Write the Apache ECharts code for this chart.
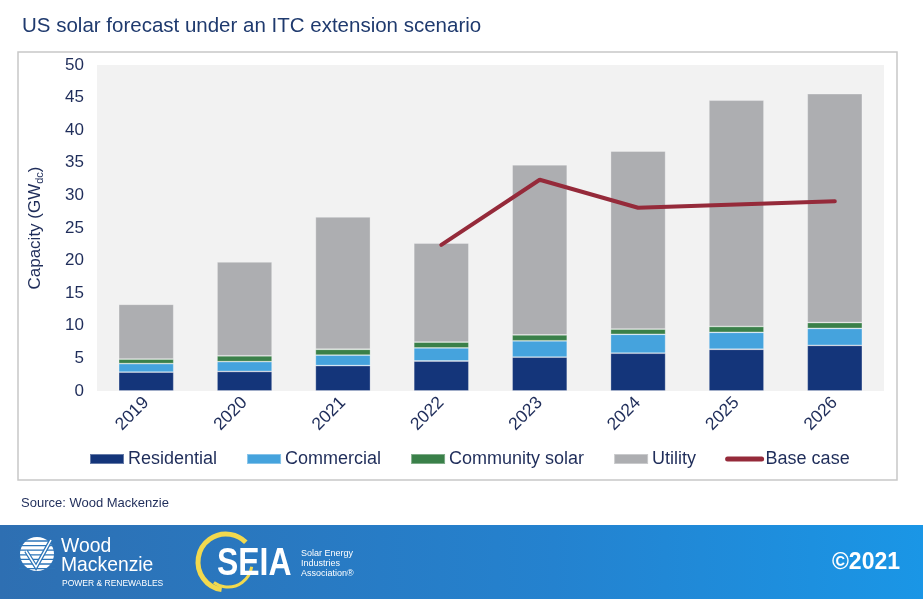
<!DOCTYPE html>
<html>
<head>
<meta charset="utf-8">
<script src="https://cdn.jsdelivr.net/npm/echarts@6/dist/echarts.min.js"></script>
<style>html,body{margin:0;padding:0;background:#fff}#c{width:923px;height:599px}</style>
</head>
<body>
<div id="c"></div>
<script>
var years = ['2019','2020','2021','2022','2023','2024','2025','2026'];
var residential = [2.9, 3.0, 3.9, 4.6, 5.2, 5.8, 6.4, 7.0];
var commercial = [1.3, 1.5, 1.6, 2.0, 2.5, 2.9, 2.6, 2.6];
var community = [0.7, 0.9, 0.9, 0.9, 0.9, 0.8, 0.9, 0.9];
var utility = [8.4, 14.4, 20.3, 15.2, 26.1, 27.3, 34.7, 35.1];
var baseCase = [null, null, null, 22.4, 32.4, 28.1, 28.6, 29.1];
var yTicks = [0, 5, 10, 15, 20, 25, 30, 35, 40, 45, 50];

var FONT = 'Liberation Sans, Arial, sans-serif';
var NAVY = '#1f2d5a';
var chart = echarts.init(document.getElementById('c'), null, {renderer: 'canvas'});

function bar(name, data, color) {
  return {name: name, type: 'bar', stack: 'total', data: data, barWidth: '56%',
    itemStyle: {color: color, borderColor: 'rgba(255,255,255,0.35)', borderWidth: 0.8},
    emphasis: {disabled: true}};
}

var stripes = [];
for (var i = 0; i < 7; i++) {
  stripes.push({type: 'line', shape: {x1: 19, y1: 541 + i * 4.6, x2: 55, y2: 541 + i * 4.6},
    style: {stroke: '#2d75b8', lineWidth: 1.3}, z: 12});
}

var option = {
  animation: false,
  textStyle: {fontFamily: FONT},
  title: {text: 'US solar forecast under an ITC extension scenario', left: 17, top: 11,
    textStyle: {fontFamily: FONT, fontSize: 20.5, fontWeight: 'normal', color: '#1f3a6e'}},
  grid: {left: 97, right: 39, top: 65, bottom: 208, show: true, backgroundColor: '#f2f2f2', borderWidth: 0},
  legend: {left: 84, top: 445, itemWidth: 34, itemHeight: 10, itemGap: 29,
    textStyle: {fontFamily: FONT, fontSize: 18, color: NAVY, padding: [0, 0, 0, -1]},
    data: [{name: 'Residential', icon: 'rect'}, {name: 'Commercial', icon: 'rect'},
      {name: 'Community solar', icon: 'rect'}, {name: 'Utility', icon: 'rect'},
      {name: 'Base case', itemStyle: {color: 'rgba(0,0,0,0)', borderWidth: 0, opacity: 0},
        lineStyle: {width: 5, color: '#952a3a', cap: 'round'}}]},
  xAxis: {type: 'category', data: years,
    axisLine: {show: false}, axisTick: {show: false},
    axisLabel: {rotate: 45, fontSize: 17.5, color: NAVY, margin: 9, fontFamily: FONT}},
  yAxis: {type: 'value', min: yTicks[0], max: yTicks[yTicks.length - 1], interval: 5,
    splitLine: {show: false}, axisLine: {show: false}, axisTick: {show: false},
    axisLabel: {fontSize: 17, color: NAVY, margin: 13, fontFamily: FONT},
    name: '{a|Capacity (GW}{b|dc}{a|)}', nameLocation: 'middle', nameRotate: 90, nameGap: 52,
    nameTextStyle: {rich: {a: {fontSize: 17, color: NAVY, fontFamily: FONT},
      b: {fontSize: 11, color: NAVY, fontFamily: FONT, padding: [8, 0, 0, 0]}}}},
  series: [
    bar('Residential', residential, '#14357a'),
    bar('Commercial', commercial, '#45a3dd'),
    bar('Community solar', community, '#3a8049'),
    bar('Utility', utility, '#adaeb1'),
    {name: 'Base case', type: 'line', data: baseCase, symbol: 'none', connectNulls: false,
      lineStyle: {color: '#952a3a', width: 4, cap: 'round'}, itemStyle: {color: '#952a3a'}, z: 5}
  ],
  graphic: [
    {type: 'rect', shape: {x: 18, y: 52, width: 879, height: 428}, style: {fill: 'none', stroke: '#c8c8c8', lineWidth: 1.5}, z: -1, silent: true},
    {type: 'text', x: 21, y: 503, style: {text: 'Source: Wood Mackenzie', fontFamily: FONT, fontSize: 13, fill: NAVY, textVerticalAlign: 'middle'}},
    {type: 'rect', shape: {x: 0, y: 525, width: 923, height: 74},
      style: {fill: new echarts.graphic.LinearGradient(0, 0, 1, 0, [{offset: 0, color: '#2e6fb2'}, {offset: 0.6, color: '#2482cf'}, {offset: 1, color: '#1a96e6'}])}, z: 10},
    {type: 'circle', shape: {cx: 37, cy: 554, r: 17}, style: {fill: '#ffffff'}, z: 11},
    {type: 'group', children: stripes},
    {type: 'polyline', shape: {points: [[26, 551], [36, 567], [51, 540]]}, style: {stroke: '#2d75b8', lineWidth: 4, fill: 'none'}, z: 13},
    {type: 'polyline', shape: {points: [[26, 551], [36, 567], [51, 540]]}, style: {stroke: '#ffffff', lineWidth: 1.5, fill: 'none'}, z: 14},
    {type: 'text', x: 61, y: 546, scaleX: 0.92, style: {text: 'Wood', fontFamily: FONT, fontSize: 21, fill: '#ffffff', textVerticalAlign: 'middle'}, z: 12},
    {type: 'text', x: 61, y: 565, scaleX: 0.92, style: {text: 'Mackenzie', fontFamily: FONT, fontSize: 21, fill: '#ffffff', textVerticalAlign: 'middle'}, z: 12},
    {type: 'text', x: 62, y: 584, style: {text: 'POWER & RENEWABLES', fontFamily: FONT, fontSize: 8.5, fill: '#ffffff', textVerticalAlign: 'middle'}, z: 12},
    {type: 'arc', shape: {cx: 226, cy: 562, r: 28, startAngle: Math.PI * 0.55, endAngle: Math.PI * 1.75}, style: {stroke: '#f2d94e', lineWidth: 5, fill: 'none'}, z: 11},
    {type: 'arc', shape: {cx: 228, cy: 563, r: 24, startAngle: Math.PI * 0.05, endAngle: Math.PI * 0.7}, style: {stroke: '#f2d94e', lineWidth: 3, fill: 'none'}, z: 11},
    {type: 'text', x: 217, y: 565, scaleX: 0.84, style: {text: 'SEIA', fontFamily: FONT, fontSize: 38, fontWeight: 'bold', fill: '#ffffff', textVerticalAlign: 'middle'}, z: 12},
    {type: 'text', x: 301, y: 554, style: {text: 'Solar Energy', fontFamily: FONT, fontSize: 9, fill: '#ffffff', textVerticalAlign: 'middle'}, z: 12},
    {type: 'text', x: 301, y: 564, style: {text: 'Industries', fontFamily: FONT, fontSize: 9, fill: '#ffffff', textVerticalAlign: 'middle'}, z: 12},
    {type: 'text', x: 301, y: 574, style: {text: 'Association®', fontFamily: FONT, fontSize: 9, fill: '#ffffff', textVerticalAlign: 'middle'}, z: 12},
    {type: 'text', x: 900, y: 563, style: {text: '©2021', fontFamily: FONT, fontSize: 23, fontWeight: 'bold', fill: '#ffffff', textAlign: 'right', textVerticalAlign: 'middle'}, z: 12}
  ]
};
chart.setOption(option);
</script>
</body>
</html>
